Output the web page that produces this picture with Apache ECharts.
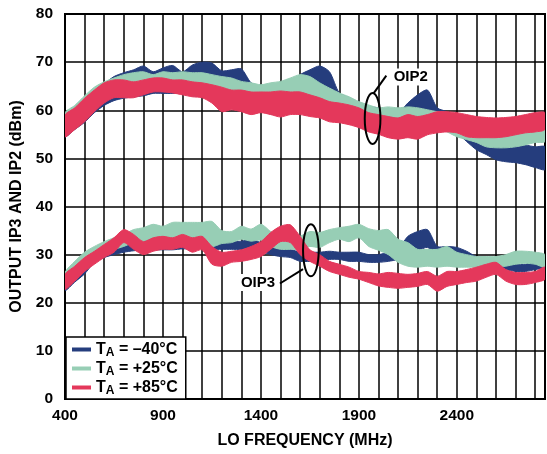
<!DOCTYPE html>
<html>
<head>
<meta charset="utf-8">
<script src="https://cdn.jsdelivr.net/npm/echarts@6/dist/echarts.min.js"></script>
<style>
html, body { margin: 0; padding: 0; background: #fff; }
#main { width: 547px; height: 454px; }
</style>
</head>
<body>
<div id="main"></div>
<script>
// LO frequency (MHz)
var freqs = [400, 450, 500, 550, 600, 650, 700, 750, 800, 850,
    900, 950, 1000, 1050, 1100, 1150, 1200, 1250, 1300, 1350,
    1400, 1450, 1500, 1550, 1600, 1650, 1700, 1750, 1800, 1850,
    1900, 1950, 2000, 2050, 2100, 2150, 2200, 2250, 2300, 2350,
    2400, 2450, 2500, 2550, 2600, 2650, 2700, 2750, 2800, 2850];

// OIP2 bands (low / high edge of the spread of parts), dBm
var oip2LowM40 = [54.5, 56, 57.5, 59.5, 61, 62, 62.5, 62.8, 63, 63.5,
    63.5, 63.5, 63.5, 63, 62.8, 62, 61.5, 61, 60.5, 60,
    59.8, 59.2, 59, 59.3, 59.5, 59.3, 59, 58.5, 58, 57.5,
    56.5, 56, 56.5, 56.5, 56.3, 56.3, 56, 56, 56, 55.8,
    55.3, 53.5, 51.8, 50.8, 49.7, 49.3, 49.1, 48.7, 48.1, 47.7];
var oip2HighM40 = [58.5, 60, 62, 64, 65.5, 67, 67.8, 68.4, 69.2, 68,
    68.8, 69.3, 68, 69.4, 70, 69.8, 68.2, 68.4, 68.6, 65.7,
    64.9, 64.6, 65.3, 65.7, 67.4, 68.4, 69.2, 68, 63.6, 62.6,
    61.5, 60.8, 60.5, 60, 59.5, 61.5, 63.2, 64.2, 60.5, 59.7,
    58.4, 56.6, 55.3, 54.3, 53.9, 53.5, 53.3, 52.8, 52.4, 52.4];
var oip2LowP25 = [55.5, 57, 58.5, 60.5, 62, 63, 63.5, 64, 64.5, 64.5,
    64.5, 64.5, 64.5, 64.3, 64, 63.5, 63, 62.5, 62.5, 62,
    62, 62, 62, 62, 62.5, 62, 61, 60, 59.7, 59,
    58.7, 58.5, 58.4, 58.7, 58.4, 58.7, 58, 57.6, 56.4, 55.5,
    54.5, 53.9, 53.3, 52.4, 52.2, 52.2, 52.4, 52.8, 53.3, 53.5];
var oip2HighP25 = [59.5, 61, 63, 64.8, 65.9, 66.7, 67.4, 67.8, 68, 67.4,
    68, 67.8, 68, 67.8, 67.8, 67.4, 67, 66.7, 66, 65.7,
    65.3, 65.7, 66, 66.7, 67.4, 67, 65.7, 64.6, 63.6, 62.8,
    61.8, 61.1, 60.5, 60.7, 60.5, 60.7, 60.5, 60.1, 59.7, 59.5,
    58.4, 57.6, 57, 56.4, 56, 56, 56.4, 56.6, 57, 57.4];
var oip2LowP85 = [54.5, 56, 57.6, 59.7, 61.5, 62.6, 62.6, 62.6, 63.2, 63.8,
    63.8, 63.6, 63.2, 62.8, 62.6, 61.5, 59.7, 60.1, 59.7, 59.1,
    59.5, 59.1, 58.6, 59.1, 59.1, 58.7, 58.4, 57.6, 57.4, 57,
    56.4, 55.5, 55, 54.3, 54, 54.3, 54, 54.9, 55.3, 55.5,
    55.3, 54.5, 54.3, 54.3, 54.3, 54.5, 54.9, 55.3, 55.5, 56];
var oip2HighP85 = [59, 60.5, 62.5, 64.2, 65.7, 66.3, 66.3, 65.9, 66.3, 66.7,
    66.7, 66.3, 66.3, 65.9, 65.7, 65.3, 64.8, 64.2, 64.2, 63.8,
    63.8, 63.8, 64, 63.8, 63.8, 63.2, 62.6, 61.8, 61.5, 61.1,
    60.5, 59.5, 59.1, 58.7, 58.4, 59.1, 58.7, 59.1, 59.7, 59.7,
    59.5, 59.1, 58.7, 58.5, 58.4, 58.5, 58.7, 59.1, 59.5, 59.5];

// OIP3 bands, dBm
var oip3LowM40 = [22.5, 24.3, 26, 28.4, 29.4, 30, 30.5, 30.8, 31, 31,
    31, 31, 31.2, 31.2, 31.5, 31.1, 31.1, 31.1, 31.1, 31.5,
    30.7, 30, 29.6, 29.4, 28.6, 28.6, 28.6, 29, 29, 28.6,
    28.6, 28.4, 28.4, 28.6, 29, 29.6, 30.7, 31.5, 29.6, 29.4,
    29, 28.6, 28.4, 28, 27.6, 26.9, 26.5, 26.5, 26.9, 27.4];
var oip3HighM40 = [25, 26.8, 28.5, 30.7, 31.7, 32.1, 32.7, 32.8, 33, 33.2,
    33.3, 33.3, 33.5, 33.5, 33.5, 33.2, 32.7, 32.7, 32.8, 33.2,
    32.5, 31.7, 31.5, 31.1, 30.5, 30.5, 30.5, 30.7, 30.5, 30.5,
    30.5, 30, 30, 30.5, 31.1, 33.8, 34.8, 35.2, 31.7, 31.7,
    31.5, 30.7, 29.6, 29.4, 28.6, 28.4, 28, 28, 28.6, 29];
var oip3LowP25 = [23.8, 26.5, 27.6, 29.4, 30.5, 31.1, 31.7, 32.5, 32.7, 33.5,
    33.2, 33.5, 33.8, 33.5, 33.8, 31.7, 32.3, 32.5, 33.2, 32.8,
    33, 31.7, 31.1, 31.1, 31.1, 31.7, 31.5, 32.5, 33.2, 32.7,
    33.5, 31.7, 30.9, 30, 28.4, 27.6, 27.4, 27.6, 27.4, 27.6,
    27.4, 27.4, 27.4, 27.4, 27.4, 27.6, 28, 28.2, 28, 27.4];
var oip3HighP25 = [26.3, 28.6, 30.5, 31.7, 32.7, 33.5, 34.2, 35.2, 35.6, 36.3,
    35.9, 36.7, 36.7, 36.7, 36.7, 36.9, 35, 34.8, 35.9, 35.3,
    36.3, 34.8, 33.6, 33.2, 33.8, 34.8, 34.6, 35.2, 35.6, 35.9,
    36.3, 35.4, 35, 35.2, 33.2, 32.5, 31.1, 31.1, 31.1, 31.7,
    30.5, 30, 29.6, 29.6, 29.6, 30, 30.7, 30.7, 30.5, 30];
var oip3LowP85 = [22.8, 24.5, 26.5, 28, 29.4, 30.5, 32.5, 31.1, 30, 30.7,
    31.1, 31.1, 31.5, 30.5, 31, 28, 27.6, 28.4, 28.6, 29,
    29.6, 31.1, 32.7, 32.5, 30, 28.6, 27.6, 26.5, 25.9, 25.3,
    24.9, 24.2, 23.5, 23.2, 23, 23.2, 23.4, 23.8, 22.4, 23.4,
    23.8, 24.2, 24.5, 25.3, 25.9, 24.5, 23.8, 23.8, 24.2, 24.9];
var oip3HighP85 = [25.9, 27.6, 29.4, 30.7, 32.1, 33.5, 35.2, 34.2, 32.7, 33.5,
    33.8, 33.5, 34.2, 33.5, 33.8, 31.7, 30.5, 30.7, 31, 31.7,
    32.7, 34.6, 35.9, 36.2, 33.8, 31, 30, 28.6, 28, 27.4,
    26.5, 26.3, 26, 26.3, 26.1, 25.9, 26.1, 26.5, 25.5, 26.5,
    26.5, 26.9, 27.4, 28, 28.4, 26.9, 26.3, 26.3, 26.5, 27.4];

var yTicks = [0, 10, 20, 30, 40, 50, 60, 70, 80];
var xLabels = [400, 900, 1400, 1900, 2400];

var tempNames = ['–40°C', '+25°C', '+85°C'];
var tempColors = ['#253d7d', '#97ceb5', '#e4385b'];

var FONT = '"Liberation Sans", Arial, sans-serif';

/**
 * 一个温度的带状区域：上沿 + 反向下沿 组成多边形，坐标由坐标轴换算
 */
function bandSeries(name, color, low, high) {
    return {
        name: name,
        type: 'custom',
        coordinateSystem: 'cartesian2d',
        silent: true,
        clip: true,
        itemStyle: {color: color},
        data: [[freqs[0], low[0]]],
        renderItem: function (params, api) {
            var pts = [];
            for (var i = 0; i < freqs.length; i++) {
                pts.push(api.coord([freqs[i], high[i]]));
            }
            for (var j = freqs.length - 1; j >= 0; j--) {
                pts.push(api.coord([freqs[j], low[j]]));
            }
            return {
                type: 'polygon',
                shape: {points: pts, smooth: 0.25},
                style: {fill: color, stroke: color, lineWidth: 1}
            };
        }
    };
}

var myChart = echarts.init(document.getElementById('main'), null, {renderer: 'canvas'});

var series = [
    bandSeries(tempNames[0], tempColors[0], oip2LowM40, oip2HighM40),
    bandSeries(tempNames[0], tempColors[0], oip3LowM40, oip3HighM40),
    bandSeries(tempNames[1], tempColors[1], oip2LowP25, oip2HighP25),
    bandSeries(tempNames[1], tempColors[1], oip3LowP25, oip3HighP25),
    bandSeries(tempNames[2], tempColors[2], oip2LowP85, oip2HighP85),
    bandSeries(tempNames[2], tempColors[2], oip3LowP85, oip3HighP85)
];

var option = {
    animation: false,
    backgroundColor: '#fff',
    grid: {
        left: 65, right: 2, top: 14, bottom: 54,
        show: true, borderColor: '#000', borderWidth: 2
    },
    legend: {
        left: 66, bottom: 55,
        orient: 'vertical',
        backgroundColor: '#fff',
        borderColor: '#000',
        borderWidth: 1.5,
        borderRadius: 0,
        padding: [3, 8, 2, 6],
        itemGap: 0,
        itemWidth: 19,
        itemHeight: 4,
        icon: 'rect',
        selectedMode: false,
        data: tempNames.map(function (n, i) {
            return {name: n, itemStyle: {color: tempColors[i]}};
        }),
        formatter: function (name) {
            return '{t|T}{s|A}{t| = ' + name + '}';
        },
        textStyle: {
            rich: {
                t: {fontFamily: FONT, fontSize: 16, fontWeight: 'bold', color: '#000', lineHeight: 16},
                s: {fontFamily: FONT, fontSize: 12, fontWeight: 'bold', color: '#000', padding: [7, 0, 0, 0], lineHeight: 9}
            }
        }
    },
    xAxis: {
        type: 'value',
        min: 400, max: 2850, interval: 100,
        name: 'LO FREQUENCY (MHz)',
        nameLocation: 'middle',
        nameGap: 34,
        nameTextStyle: {fontFamily: FONT, fontSize: 16, fontWeight: 'bold', color: '#000'},
        axisLine: {show: true, lineStyle: {color: '#000', width: 2}},
        axisTick: {show: false},
        axisLabel: {
            fontFamily: FONT, fontSize: 15.5, fontWeight: 'bold', color: '#000', margin: 9,
            showMaxLabel: false,
            formatter: function (v) {
                return xLabels.indexOf(v) >= 0 ? String(v) : '';
            }
        },
        splitLine: {show: true, lineStyle: {color: '#000', width: 1.5}}
    },
    yAxis: {
        type: 'value',
        min: yTicks[0], max: yTicks[yTicks.length - 1], interval: 10,
        name: 'OUTPUT IP3 AND IP2 (dBm)',
        nameLocation: 'middle',
        nameGap: 39,
        nameTextStyle: {fontFamily: FONT, fontSize: 16, fontWeight: 'bold', color: '#000'},
        axisLine: {show: true, lineStyle: {color: '#000', width: 2}},
        axisTick: {show: false},
        axisLabel: {fontFamily: FONT, fontSize: 15.5, fontWeight: 'bold', color: '#000', margin: 12},
        splitLine: {show: true, lineStyle: {color: '#000', width: 1.5}}
    },
    series: series
};

myChart.setOption(option, true);

// OIP2 / OIP3 标注（椭圆 + 引线 + 文字），位置以数据坐标给出
var notes = [
    {text: 'OIP2', ring: [1970, 58.3], ringRx: 40, ringRy: 5.3, label: [2165, 66.9], from: [2040, 67.2], to: [1975, 63.5]},
    {text: 'OIP3', ring: [1655, 30.9], ringRx: 40, ringRy: 5.4, label: [1385, 24.2], from: [1497, 24.0], to: [1615, 27.0]}
];

function drawNotes() {
    var g = [];
    notes.forEach(function (n) {
        var c = myChart.convertToPixel({gridIndex: 0}, n.ring);
        var e = myChart.convertToPixel({gridIndex: 0}, [n.ring[0] + n.ringRx, n.ring[1] + n.ringRy]);
        var l = myChart.convertToPixel({gridIndex: 0}, n.label);
        var a = myChart.convertToPixel({gridIndex: 0}, n.from);
        var b = myChart.convertToPixel({gridIndex: 0}, n.to);
        g.push({
            type: 'ellipse', z: 50,
            shape: {cx: c[0], cy: c[1], rx: Math.abs(e[0] - c[0]), ry: Math.abs(c[1] - e[1])},
            style: {fill: 'none', stroke: '#000', lineWidth: 2}
        });
        g.push({
            type: 'line', z: 50,
            shape: {x1: a[0], y1: a[1], x2: b[0], y2: b[1]},
            style: {stroke: '#000', lineWidth: 2}
        });
        g.push({
            type: 'text', z: 50,
            x: l[0], y: l[1],
            style: {
                text: n.text, fill: '#000', font: 'bold 15px ' + FONT,
                align: 'center', verticalAlign: 'middle',
                backgroundColor: '#fff', padding: [1, 2]
            }
        });
    });
    myChart.setOption({graphic: g});
}

drawNotes();
</script>
</body>
</html>
